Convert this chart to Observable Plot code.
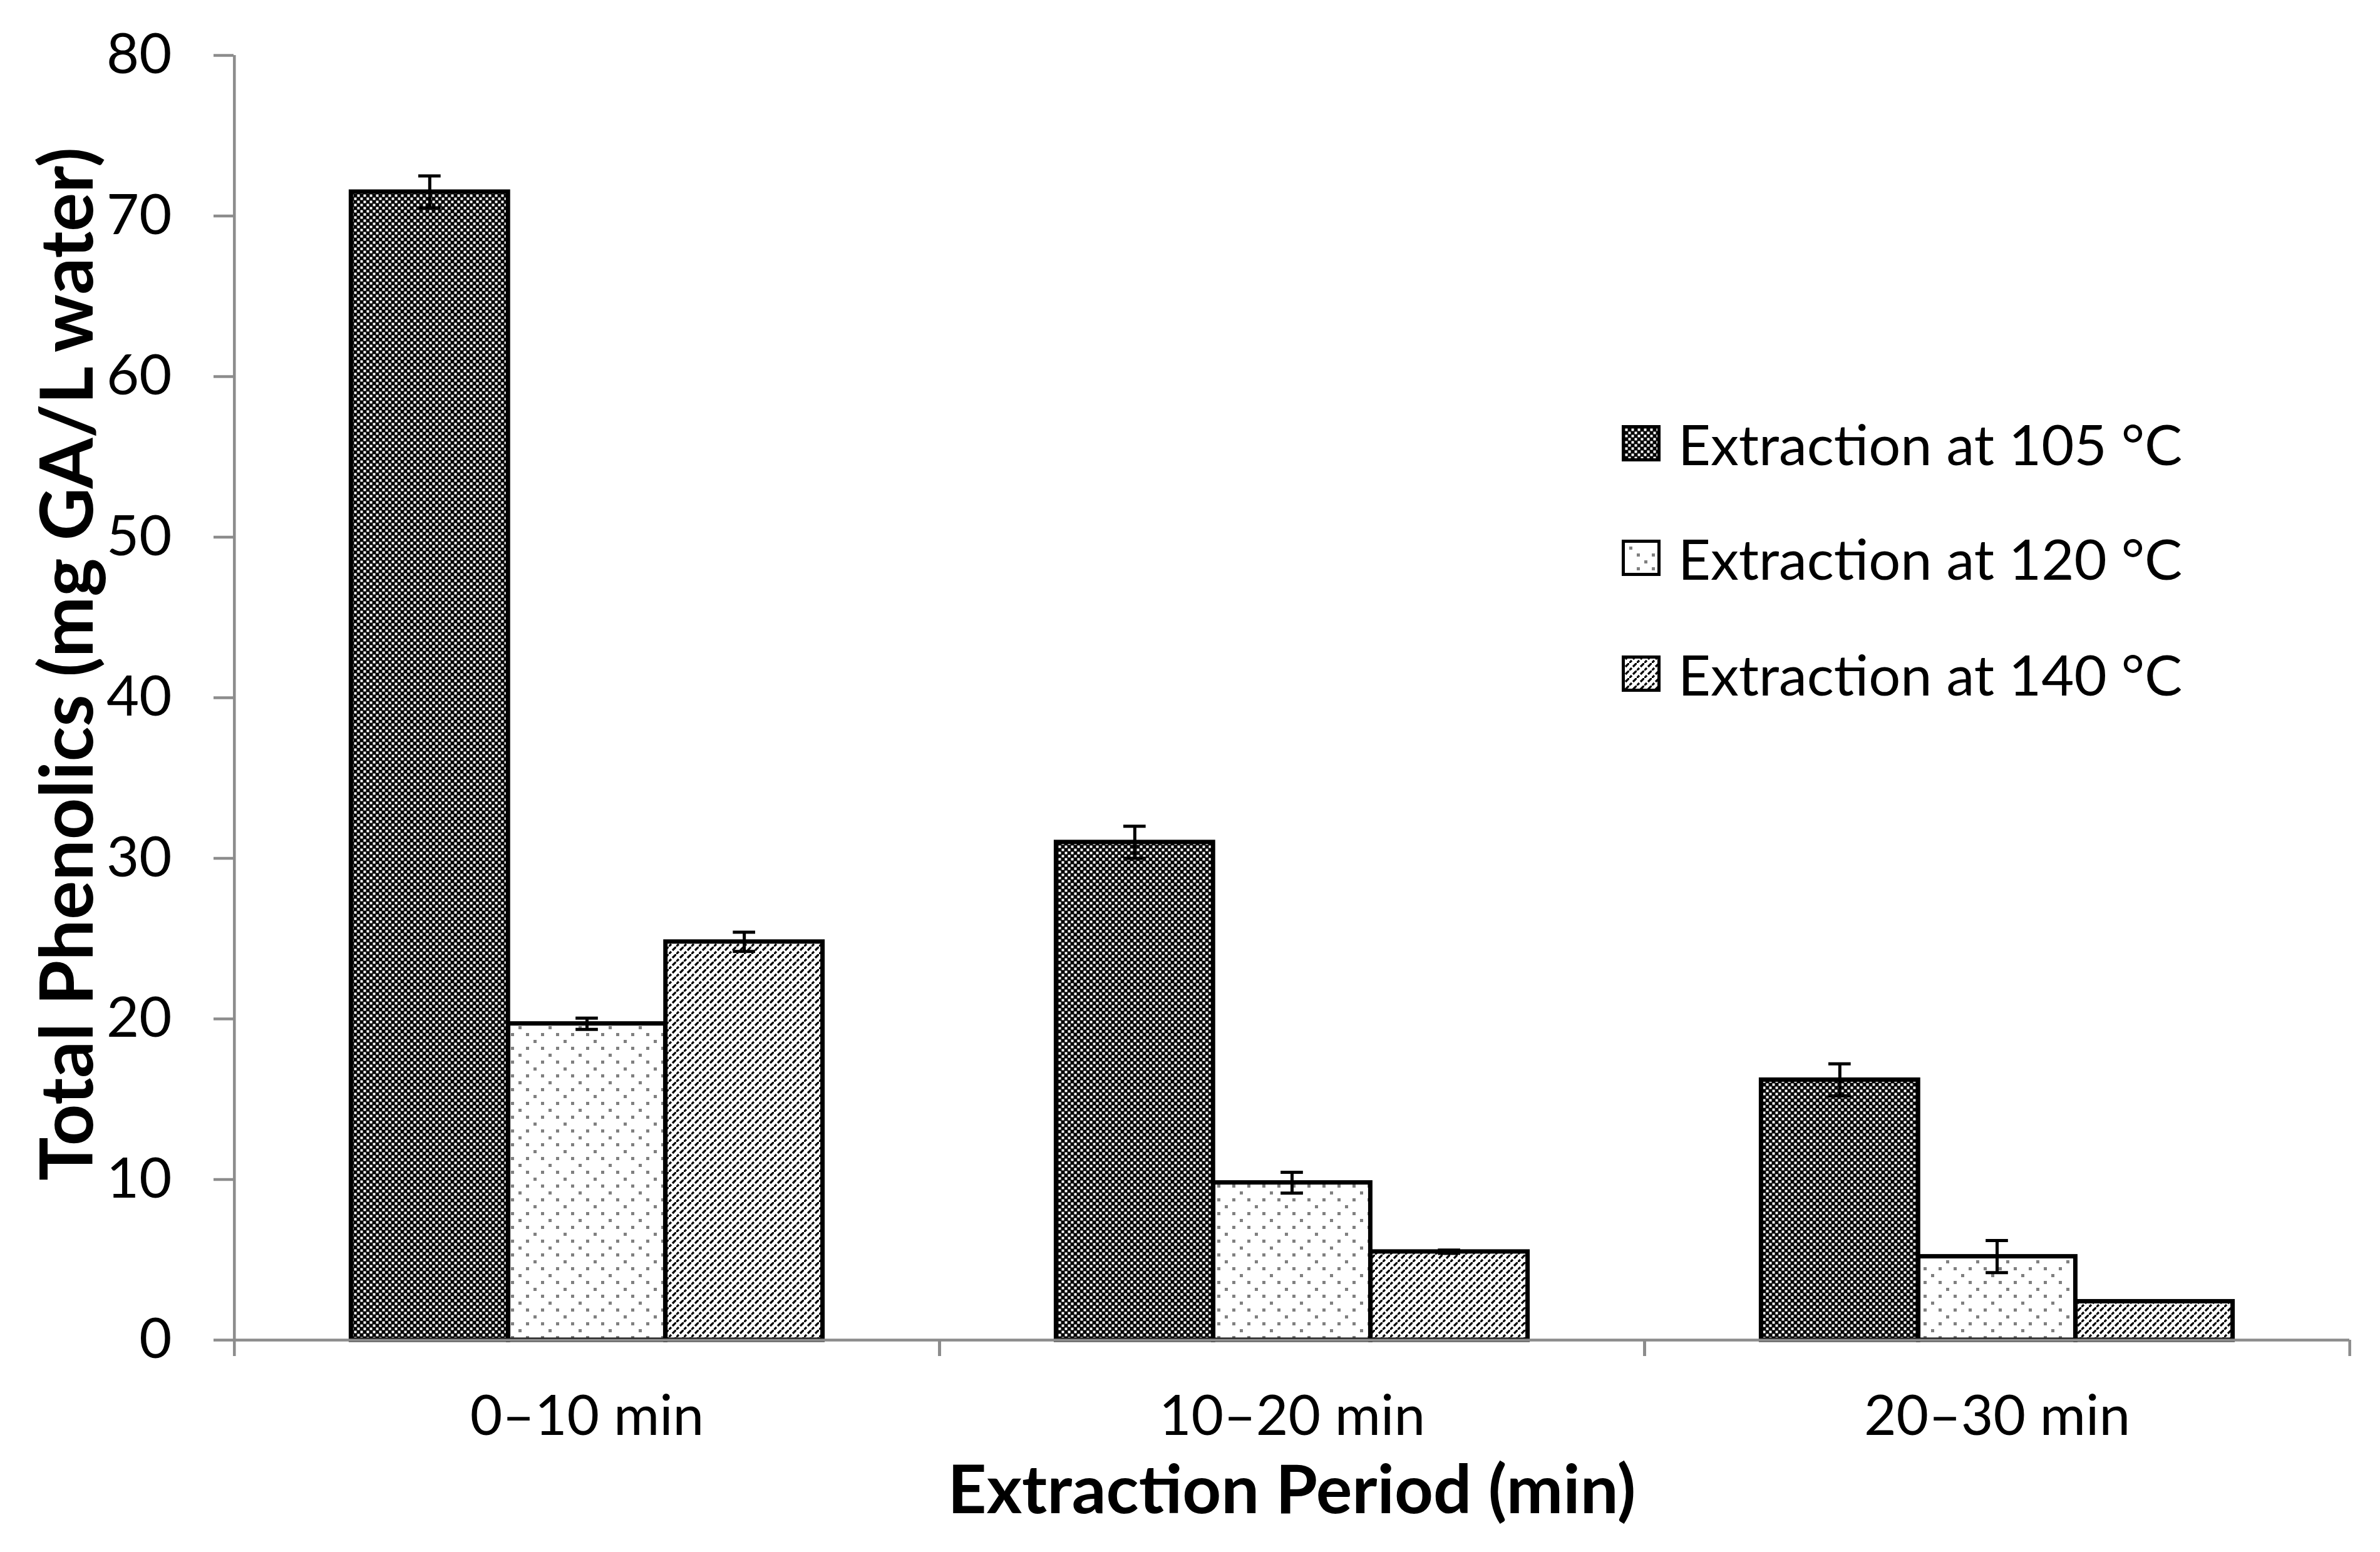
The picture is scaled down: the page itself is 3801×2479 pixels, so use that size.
<!DOCTYPE html>
<html>
<head>
<meta charset="utf-8">
<script src="https://cdn.jsdelivr.net/npm/d3@7"></script>
<script src="https://cdn.jsdelivr.net/npm/@observablehq/plot@0.6"></script>
<style>
  body { margin: 0; background: #fff; }
  #wrap { position: relative; width: 3801px; height: 2479px; font-family: Lato, "DejaVu Sans", sans-serif; background: #fff; }
  .row { position: absolute; left: 2590px; height: 120px; display: flex; align-items: center; }
  .row span { font-size: 90px; margin-left: 28px; color: #000; white-space: nowrap; }
</style>
</head>
<body>
<svg width="0" height="0" style="position:absolute">
  <defs>
    <pattern id="pat0" patternUnits="userSpaceOnUse" width="10" height="10">
      <rect width="10" height="10" fill="#000"/>
      <rect x="0.5" y="0.5" width="4" height="4" fill="#fff"/>
      <rect x="5.5" y="5.5" width="4" height="4" fill="#fff"/>
    </pattern>
    <pattern id="pat1" patternUnits="userSpaceOnUse" width="48" height="44">
      <rect width="48" height="44" fill="#fff"/>
      <rect x="0" y="0" width="5" height="5" fill="#808080"/>
      <rect x="24" y="0" width="5" height="5" fill="#808080"/>
      <rect x="12" y="11" width="5" height="5" fill="#808080"/>
      <rect x="0" y="22" width="5" height="5" fill="#808080"/>
      <rect x="24" y="22" width="5" height="5" fill="#808080"/>
      <rect x="36" y="33" width="5" height="5" fill="#808080"/>
    </pattern>
    <pattern id="pat2" patternUnits="userSpaceOnUse" width="12" height="12">
      <rect width="12" height="12" fill="#fff"/>
      <path d="M-1,13 L4,8 M6,6 L13,-1" stroke="#000" stroke-width="3.2" fill="none"/>
    </pattern>
  </defs>
</svg>
<div id="wrap"></div>
<script>
// ---- data ----
const periods = ["0–10 min", "10–20 min", "20–30 min"];
const temps = ["Extraction at 105 °C", "Extraction at 120 °C", "Extraction at 140 °C"];
const values105 = [71.5, 31.0, 16.2];
const values120 = [19.7, 9.8, 5.2];
const values140 = [24.8, 5.5, 2.4];
const err105 = [1.0, 1.0, 1.0];
const err120 = [0.35, 0.65, 1.0];
const err140 = [0.6, 0.1, 0.0];
const yTicks = [0, 10, 20, 30, 40, 50, 60, 70, 80];
const yTitle = "Total Phenolics (mg GA/L water)";
const xTitle = "Extraction Period (min)";

const seriesValues = [values105, values120, values140];
const seriesErr = [err105, err120, err140];
const rows = [];
temps.forEach((t, j) => periods.forEach((p, i) => rows.push({period: p, temp: t, j, value: seriesValues[j][i], err: seriesErr[j][i]})));

// ---- layout ----
const width = 3801, height = 2479;
const mL = 373, mR = 49, mT = 88, mB = 339;
const B = (width - mL - mR) / periods.length;   // band width per period
const bw = B * 0.223;                           // bar width
const g = (B - 3 * bw) / 2;                     // gap before first bar
const capHalf = 18;
const gray = "#8c8c8c";

const marks = [];
temps.forEach((t, j) => {
  const data = rows.filter(d => d.j === j);
  const c = g + (j + 0.5) * bw;
  marks.push(Plot.barY(data, {
    x: "period", y: "value", fill: `url(#pat${j})`, stroke: "#000", strokeWidth: 7,
    insetLeft: g + j * bw, insetRight: B - g - (j + 1) * bw
  }));
  const e = data.filter(d => d.err > 0);
  marks.push(Plot.ruleX(e, {x: "period", y1: d => d.value - d.err, y2: d => d.value + d.err, dx: c - B / 2, stroke: "#000", strokeWidth: 5}));
  marks.push(Plot.tickY(e, {x: "period", y: d => d.value + d.err, insetLeft: c - capHalf, insetRight: B - c - capHalf, stroke: "#000", strokeWidth: 5}));
  marks.push(Plot.tickY(e, {x: "period", y: d => d.value - d.err, insetLeft: c - capHalf, insetRight: B - c - capHalf, stroke: "#000", strokeWidth: 5}));
});

// axes
marks.push(Plot.ruleY([0], {stroke: gray, strokeWidth: 4.5}));
marks.push(Plot.ruleX([periods[0]], {dx: -B / 2, y1: 0, y2: 80, stroke: gray, strokeWidth: 4.5}));
marks.push(Plot.axisY({ticks: yTicks, tickSize: 32, tickPadding: 67, stroke: gray, strokeWidth: 4.5, fill: "#000", fontSize: 90, label: null, tickFormat: d => String(d)}));
marks.push(Plot.axisX({tickSize: 26, dx: -B / 2, stroke: gray, strokeWidth: 4.5, fill: "none", label: null}));
marks.push(Plot.axisX({tickSize: 26, dx: B / 2, stroke: gray, strokeWidth: 4.5, fill: "none", label: null}));
marks.push(Plot.axisX({tickSize: 0, tickPadding: 88, fill: "#000", fontSize: 89, label: null}));
marks.push(Plot.text([yTitle], {frameAnchor: "left", textAnchor: "middle", rotate: -90, dx: -263, dy: -54, fontWeight: "bold", fontSize: 116, lineAnchor: "middle", fill: "#000"}));
marks.push(Plot.text([xTitle], {frameAnchor: "bottom", textAnchor: "middle", dy: 242, fontWeight: "bold", fontSize: 108, lineAnchor: "middle", fill: "#000"}));

const chart = Plot.plot({
  width, height,
  marginLeft: mL, marginRight: mR, marginTop: mT, marginBottom: mB,
  style: {fontFamily: "Lato, sans-serif", fontSize: "90px", color: "#000", background: "#fff"},
  x: {domain: periods, type: "band", padding: 0},
  y: {domain: [0, 80]},
  marks
});
const wrap = document.getElementById("wrap");
wrap.appendChild(chart);

// legend
const legendCenters = [708, 891, 1076];
temps.forEach((t, j) => {
  const row = document.createElement("div");
  row.className = "row";
  row.style.top = (legendCenters[j] - 60) + "px";
  row.innerHTML = `<svg width="62" height="58"><rect x="2.5" y="2.5" width="57" height="53" fill="url(#pat${j})" stroke="#000" stroke-width="5"/></svg><span>${t}</span>`;
  wrap.appendChild(row);
});
</script>
</body>
</html>
